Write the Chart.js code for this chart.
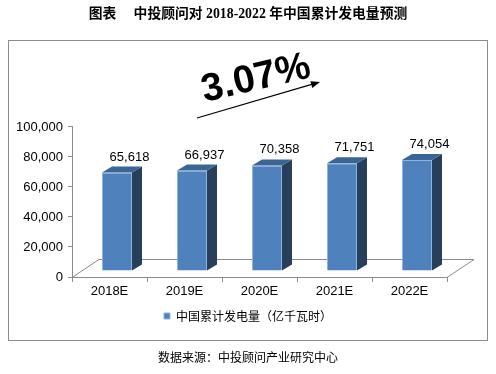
<!DOCTYPE html>
<html>
<head>
<meta charset="utf-8">
<script src="https://cdn.jsdelivr.net/npm/chart.js@4"></script>
<style>
  html, body { margin: 0; padding: 0; background: #fff; }
  #wrap { width: 496px; height: 374px; }
</style>
</head>
<body>
<div id="wrap"><canvas id="chart"></canvas></div>
<script>
const years = ['2018E', '2019E', '2020E', '2021E', '2022E'];
const output = [65618, 66937, 70358, 71751, 74054];
const yTicks = [0, 20000, 40000, 60000, 80000, 100000];
const seriesName = '中国累计发电量（亿千瓦时）';
const growthLabel = '3.07%';

// fake 3D look
const barShift = { x: 7.5, y: -6 };
const depth = { x: 10, y: -6 };
const floor = { x: 27, y: -18 };

const fmt = v => v.toLocaleString('en-US');

Chart.defaults.font.family = "'Liberation Sans', Arial, sans-serif";
Chart.defaults.color = '#000';

const frame = {
  id: 'frame',
  beforeDraw(chart) {
    const ctx = chart.ctx;
    ctx.save();
    ctx.strokeStyle = '#8c8c8c';
    ctx.lineWidth = 1;
    ctx.strokeRect(8.5, 40.5, 479, 300);
    ctx.restore();
  }
};

const bars3d = {
  id: 'bars3d',
  beforeDatasetsDraw(chart) {
    const { ctx, chartArea: a } = chart;
    // floor
    ctx.save();
    ctx.strokeStyle = '#8c8c8c';
    ctx.lineWidth = 1;
    ctx.beginPath();
    ctx.moveTo(a.left, a.bottom + 0.5);
    ctx.lineTo(a.left + floor.x, a.bottom + floor.y + 0.5);
    ctx.lineTo(a.right + floor.x, a.bottom + floor.y + 0.5);
    ctx.lineTo(a.right, a.bottom + 0.5);
    ctx.stroke();
    ctx.restore();
    ctx.save();
    ctx.translate(barShift.x, barShift.y);
  },
  afterDatasetsDraw(chart) {
    const ctx = chart.ctx;
    ctx.restore();
    const meta = chart.getDatasetMeta(0);
    ctx.save();
    meta.data.forEach((el, i) => {
      const l = el.x - el.width / 2 + barShift.x;
      const r = el.x + el.width / 2 + barShift.x;
      const t = el.y + barShift.y;
      const b = el.base + barShift.y;
      // side
      ctx.fillStyle = '#283f5c';
      ctx.beginPath();
      ctx.moveTo(r, t);
      ctx.lineTo(r + depth.x, t + depth.y);
      ctx.lineTo(r + depth.x, b + depth.y);
      ctx.lineTo(r, b);
      ctx.closePath();
      ctx.fill();
      // top
      ctx.fillStyle = '#3b6595';
      ctx.beginPath();
      ctx.moveTo(l, t);
      ctx.lineTo(l + depth.x, t + depth.y);
      ctx.lineTo(r + depth.x, t + depth.y);
      ctx.lineTo(r, t);
      ctx.closePath();
      ctx.fill();
      // value
      ctx.fillStyle = '#000';
      ctx.font = "13px 'Liberation Sans', Arial, sans-serif";
      ctx.textAlign = 'center';
      ctx.textBaseline = 'alphabetic';
      ctx.fillText(fmt(output[i]), el.x + 20, t - 12);
    });
    ctx.restore();
  },
  afterDraw(chart) {
    const ctx = chart.ctx;
    ctx.save();
    // growth arrow
    ctx.strokeStyle = '#000';
    ctx.fillStyle = '#000';
    ctx.lineWidth = 1.2;
    const x0 = 197, y0 = 118, x1 = 320, y1 = 82;
    const ang = Math.atan2(y1 - y0, x1 - x0);
    ctx.beginPath();
    ctx.moveTo(x0, y0);
    ctx.lineTo(x1 - 6 * Math.cos(ang), y1 - 6 * Math.sin(ang));
    ctx.stroke();
    ctx.beginPath();
    ctx.moveTo(x1, y1);
    ctx.lineTo(x1 - 9 * Math.cos(ang) + 3.5 * Math.sin(ang), y1 - 9 * Math.sin(ang) - 3.5 * Math.cos(ang));
    ctx.lineTo(x1 - 9 * Math.cos(ang) - 3.5 * Math.sin(ang), y1 - 9 * Math.sin(ang) + 3.5 * Math.cos(ang));
    ctx.closePath();
    ctx.fill();
    // growth text
    ctx.translate(256, 79);
    ctx.rotate(-13 * Math.PI / 180);
    ctx.font = "bold 39px 'Liberation Sans', Arial, sans-serif";
    ctx.textAlign = 'center';
    ctx.textBaseline = 'middle';
    ctx.fillText(growthLabel, 0, 0);
    ctx.restore();
  }
};

new Chart(document.getElementById('chart'), {
  type: 'bar',
  data: {
    labels: years,
    datasets: [{
      label: seriesName,
      data: output,
      backgroundColor: '#4f81bd',
      borderColor: '#8db3e2',
      borderWidth: 1,
      categoryPercentage: 1,
      barPercentage: 0.4
    }]
  },
  options: {
    responsive: true,
    maintainAspectRatio: false,
    animation: false,
    events: [],
    layout: { padding: { left: 8, right: 8, top: 0, bottom: 0 } },
    scales: {
      x: {
        grid: { display: true, offset: true, drawOnChartArea: false, tickLength: 5, color: '#8c8c8c' },
        border: { color: '#8c8c8c' },
        ticks: { padding: 2, font: { size: 13 }, color: '#000' },
        afterFit: s => { s.height = 30; }
      },
      y: {
        min: 0,
        max: 100000,
        afterBuildTicks: s => { s.ticks = yTicks.map(v => ({ value: v })); },
        grid: { drawOnChartArea: false, tickLength: 4, color: '#8c8c8c' },
        border: { color: '#8c8c8c' },
        ticks: { padding: 5, font: { size: 13 }, color: '#000', callback: v => fmt(v) },
        afterFit: s => { s.width = 64; }
      },
      pad: {
        type: 'linear',
        position: 'right',
        grid: { display: false },
        border: { display: false },
        ticks: { display: false },
        afterFit: s => { s.width = 41; }
      }
    },
    plugins: {
      title: {
        display: true,
        text: '图表　 中投顾问对 2018-2022 年中国累计发电量预测',
        font: { size: 13.8, weight: 'bold', family: "'Liberation Serif', 'Noto Sans CJK SC', serif", lineHeight: 1.2 },
        color: '#000',
        padding: { top: 6.5, bottom: 103.9 }
      },
      legend: {
        position: 'bottom',
        labels: {
          boxWidth: 6,
          boxHeight: 6,
          padding: 3,
          color: '#000',
          font: { size: 12, family: "'Noto Sans CJK SC', sans-serif" }
        }
      },
      subtitle: {
        display: true,
        position: 'bottom',
        text: '数据来源：中投顾问产业研究中心',
        font: { size: 12, family: "'Noto Sans CJK SC', sans-serif" },
        color: '#000',
        padding: { top: 17.8, bottom: 9.8 }
      },
      tooltip: { enabled: false }
    }
  },
  plugins: [frame, bars3d]
});
</script>
</body>
</html>
